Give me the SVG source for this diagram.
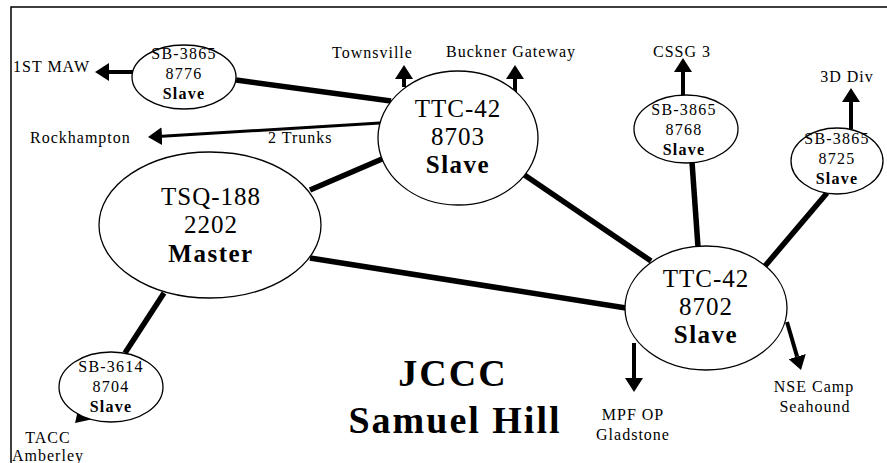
<svg xmlns="http://www.w3.org/2000/svg" width="887" height="463" viewBox="0 0 887 463">
<style>
.bg{fill:#ffffff}
.frame{stroke:#000;stroke-width:1.5;fill:none}
.node{fill:#ffffff;stroke:#000;stroke-width:1.3}
.link{stroke:#000;stroke-width:5.5;fill:none;stroke-linecap:butt}
.arr{stroke:#000;stroke-width:4;fill:none;marker-end:url(#head)}
.arrThin{stroke:#000;stroke-width:3;fill:none;marker-end:url(#head)}
text{font-family:"Liberation Serif","Times New Roman",serif;fill:#000}
.big{font-size:25px;letter-spacing:1px;text-anchor:middle}
.bigb{font-size:25px;letter-spacing:1.5px;text-anchor:middle;font-weight:bold}
.sm{font-size:16px;letter-spacing:1.2px;text-anchor:middle}
.smb{font-size:16px;letter-spacing:1.2px;text-anchor:middle;font-weight:bold}
.lbl{font-size:16px;letter-spacing:1px}
.lblm{font-size:16px;letter-spacing:1px;text-anchor:middle}
.title{font-size:38px;font-weight:bold;letter-spacing:2px;text-anchor:middle}
</style>
<defs>
<marker id="head" viewBox="0 0 14 18" refX="0" refY="9" markerWidth="14" markerHeight="18" markerUnits="userSpaceOnUse" orient="auto">
<path d="M0,0 L14,9 L0,18 z" fill="#000"/>
</marker>
</defs>
<rect class="bg" x="0" y="0" width="887" height="463"/>
<path class="frame" d="M11,463 L11,7 L887,7"/>

<g id="connectors">
<line class="link" x1="236" y1="80" x2="391" y2="101"/>
<line class="link" x1="310" y1="190" x2="382" y2="159"/>
<line class="link" x1="523" y1="174" x2="651" y2="261"/>
<line class="link" x1="692" y1="162" x2="698" y2="247"/>
<line class="link" x1="827" y1="193" x2="765" y2="266"/>
<line class="link" x1="310" y1="258" x2="626" y2="308"/>
<line class="link" x1="164" y1="293" x2="125" y2="353"/>
<line class="arr" x1="133" y1="72" x2="109" y2="72"/>
<line class="arrThin" x1="380" y1="123" x2="162" y2="136.2"/>
<line class="arr" x1="404" y1="87" x2="404" y2="79"/>
<line class="arr" x1="515" y1="93" x2="515" y2="79"/>
<line class="arr" x1="683" y1="96" x2="683" y2="72"/>
<line class="arr" x1="851" y1="129" x2="851" y2="102"/>
<line class="arr" x1="634" y1="343" x2="634" y2="378"/>
<line class="arr" x1="787" y1="322" x2="797.1" y2="356.6"/>
<line class="arr" x1="92" y1="406" x2="85" y2="413"/>
</g>

<g id="node-sb8776">
<ellipse class="node" cx="184" cy="77" rx="52" ry="32"/>
<text class="sm" x="184" y="59">SB-3865</text>
<text class="sm" x="184" y="79">8776</text>
<text class="smb" x="184" y="99">Slave</text>
</g>

<g id="node-ttc8703">
<ellipse class="node" cx="458" cy="138" rx="80" ry="67"/>
<text class="big" x="458" y="117">TTC-42</text>
<text class="big" x="458" y="145">8703</text>
<text class="bigb" x="458" y="173">Slave</text>
</g>

<g id="node-tsq2202">
<ellipse class="node" cx="210" cy="225" rx="111" ry="73"/>
<text class="big" x="211" y="205">TSQ-188</text>
<text class="big" x="211" y="233">2202</text>
<text class="bigb" x="211" y="262">Master</text>
</g>

<g id="node-sb8768">
<ellipse class="node" cx="686" cy="129" rx="52" ry="34"/>
<text class="sm" x="684" y="115">SB-3865</text>
<text class="sm" x="684" y="135">8768</text>
<text class="smb" x="684" y="155">Slave</text>
</g>

<g id="node-sb8725">
<ellipse class="node" cx="837" cy="161" rx="46" ry="33"/>
<text class="sm" x="837" y="144">SB-3865</text>
<text class="sm" x="837" y="164">8725</text>
<text class="smb" x="837" y="184">Slave</text>
</g>

<g id="node-ttc8702">
<ellipse class="node" cx="706" cy="308" rx="81" ry="62"/>
<text class="big" x="706" y="287">TTC-42</text>
<text class="big" x="706" y="315">8702</text>
<text class="bigb" x="706" y="343">Slave</text>
</g>

<g id="node-sb8704">
<ellipse class="node" cx="111" cy="387" rx="52" ry="35"/>
<text class="sm" x="111" y="372">SB-3614</text>
<text class="sm" x="111" y="392">8704</text>
<text class="smb" x="111" y="412">Slave</text>
</g>

<g id="labels">
<text class="lbl" x="13" y="72">1ST MAW</text>
<text class="lbl" x="30" y="143">Rockhampton</text>
<text class="lbl" x="268" y="143">2 Trunks</text>
<text class="lbl" x="332" y="58">Townsville</text>
<text class="lbl" x="446" y="57">Buckner Gateway</text>
<text class="lbl" x="653" y="57">CSSG 3</text>
<text class="lblm" x="847" y="82">3D Div</text>
<text class="lblm" x="48" y="443">TACC</text>
<text class="lblm" x="48" y="461">Amberley</text>
<text class="lblm" x="633" y="420">MPF OP</text>
<text class="lblm" x="633" y="440">Gladstone</text>
<text class="lblm" x="814" y="392">NSE Camp</text>
<text class="lblm" x="815" y="412">Seahound</text>
</g>

<g id="title">
<text class="title" x="453" y="386">JCCC</text>
<text class="title" x="455" y="433">Samuel Hill</text>
</g>
</svg>
